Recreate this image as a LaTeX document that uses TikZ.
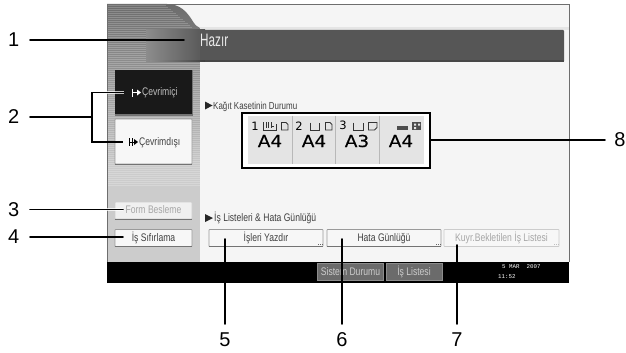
\documentclass[tikz,border=0pt]{standalone}
\usepackage{fontspec}
\setmainfont{Liberation Sans}
\newfontfamily\scrfont[FakeStretch=0.78]{Liberation Sans}
\newfontfamily\hazfont[FakeStretch=0.65]{Liberation Sans}
\newfontfamily\dtfont{Liberation Mono}
\newfontfamily\cellfont[FakeStretch=1.12,FakeBold=0.25]{DejaVu Sans}
\newfontfamily\cellnumfont{DejaVu Sans}
\definecolor{edgegray}{HTML}{6E6E6E}
\definecolor{pagebg}{HTML}{F5F5F5}
\definecolor{headdark}{HTML}{565656}
\definecolor{cellbg}{HTML}{E4E4E4}
\definecolor{btnline}{HTML}{9A9A9A}
\tikzset{
  x=1pt,y=-1pt,
  lead/.style={line width=1.9pt,black,line cap=round,line join=miter,
    preaction={draw=white,line width=2.9pt,opacity=.75}},
  numlabel/.style={font=\fontsize{20}{20}\selectfont,inner sep=0pt,anchor=east,minimum width=32pt,minimum height=18pt,align=center},
  numlabelb/.style={font=\fontsize{20}{20}\selectfont,inner sep=0pt,anchor=center},
  screenbtn/.style={draw=btnline,fill=#1,line width=.8pt,inner sep=0pt,rounded corners=.6pt},
  screenbtn/.default=white,
  scrtext/.style={font=\scrfont\fontsize{11}{11}\selectfont,inner sep=0pt,text height=8pt,text depth=2pt,text=#1},
  scrtext/.default=black!75,
  barbtn/.style={draw=black!45,fill=black!58,line width=.8pt,inner sep=0pt,text height=8pt,text depth=2pt},
  cellnum/.style={font=\cellnumfont\fontsize{11.5}{11.5}\selectfont,inner sep=0pt},
  cellsize/.style={font=\cellfont\fontsize{16.5}{16.5}\selectfont,inner sep=0pt},
  icon/.style={line width=1pt,black!80},
}
\begin{document}
\begin{tikzpicture}
\useasboundingbox (0,0) rectangle (626,353);
\fill[white] (0,0) rectangle (626,353);
% page
\fill[pagebg] (107,4) rectangle (569,262);
\fill[black!10] (200,27.5) rectangle (569,30);
% sidebar
\path[top color=black!58,bottom color=black!20] (107,4) -- (167,4) .. controls (180,4) and (187,12) .. (192,20) .. controls (195,25) and (197,27) .. (200,28) -- (200,170) -- (107,170) -- cycle;
\fill[black!20] (107,170) rectangle (200,262);
\foreach \yy in {5,7,...,29}{ \draw[white,opacity=.2,line width=.8pt] (107,\yy) -- (160+\yy*1.2,\yy); }
\foreach \yy in {31,33,...,185}{ \draw[white,opacity=.22,line width=.8pt] (107,\yy) -- (200,\yy); }
% header bar
\path[left color=black!45,right color=headdark] (146,30) rectangle (205,62);
\fill[headdark,rounded corners=1pt] (200,30) rectangle (564,62);
\path[left color=black!45,right color=black!75] (150,60.5) rectangle (205,62);
\fill[black!72] (205,60.5) rectangle (564,62);
% frame of the screen
\draw[edgegray,line width=.9pt] (107,283) -- (107,4) -- (569,4) -- (569,262);
% bottom bar
\fill[black] (107,262) rectangle (569,283);
\node[barbtn,minimum width=66pt,minimum height=17pt,text=black!20,font=\scrfont\fontsize{11}{11}\selectfont] (sd) at (350.5,272) {Sistem Durumu};
\node[barbtn,minimum width=56pt,minimum height=17pt,text=black!20,font=\scrfont\fontsize{11}{11}\selectfont] (il) at (414,272) {İş Listesi};
\node[font=\dtfont\fontsize{5.8}{5.8}\selectfont,text=white,inner sep=0pt,anchor=west] (dt) at (502,267) {5 MAR\ \ 2007};
\node[font=\dtfont\fontsize{5.8}{5.8}\selectfont,text=white,inner sep=0pt,anchor=west] (tm) at (498,276.5) {11:52};
% header text
\node[font=\hazfont\fontsize{18}{18}\selectfont,text=black!8,inner sep=0pt,anchor=west] (hz) at (200,40) {Hazır};
% side buttons
\fill[black!55] (115,70) rectangle (192.5,116);
\node[fill=black!90,inner sep=0pt,minimum width=77pt,minimum height=44pt] (on) at (153.5,92) {};
\node[screenbtn=black!3,minimum width=77pt,minimum height=45pt] (off) at (153.5,141.5) {};
\node[screenbtn=black!6,draw=black!20,minimum width=77pt,minimum height=17pt,scrtext=black!35] (fb) at (153.5,210.5) {Form Besleme};
\node[screenbtn=black!3,minimum width=77pt,minimum height=17pt,scrtext] (is) at (153.5,238) {İş Sıfırlama};
\node[scrtext=black!25,anchor=west] (ont) at (142,92.5) {Çevrimiçi};
\node[scrtext,anchor=west] (offt) at (139,142) {Çevrimdışı};
\draw[white,line width=1pt] (132.5,88.5) -- (132.5,96.5) (132.5,92.5) -- (138,92.5);
\fill[white] (137,89.5) -- (141,92.5) -- (137,95.5) -- cycle;
\draw[black,line width=.9pt] (129.5,138) -- (129.5,146) (132,138) -- (132,146) (129.5,142) -- (135,142);
\fill[black] (134,139) -- (138,142) -- (134,145) -- cycle;
\foreach \n in {off,fb,is}{ \draw[black!55,line width=.9pt] (\n.south west) -- (\n.south east); }
% section titles
\fill[black!85] (205,101.5) -- (212.5,105.5) -- (205,109.5) -- cycle;
\node[scrtext,font=\scrfont\fontsize{10.2}{10.2}\selectfont,anchor=west] (ks) at (213,106) {Kağıt Kasetinin Durumu};
\fill[black!85] (205,214) -- (213,218) -- (205,222) -- cycle;
\node[scrtext,anchor=west] (il2) at (214,218.5) {İş Listeleri \& Hata Günlüğü};
% wide buttons
\node[screenbtn=black!3,minimum width=114pt,minimum height=17pt,scrtext] (iy) at (266,238) {İşleri Yazdır};
\node[screenbtn=black!3,minimum width=114pt,minimum height=17pt,scrtext] (hg) at (384,238) {Hata Günlüğü};
\node[screenbtn=black!3,draw=black!20,minimum width=115pt,minimum height=17pt,scrtext=black!35] (kb) at (501.5,238) {Kuyr.Bekletilen İş Listesi};
\foreach \n in {iy,hg}{ \draw[black!55,line width=.9pt] (\n.south west) -- (\n.south east); }
\foreach \n/\c in {iy/black!60,hg/black!60,kb/black!25}{
  \foreach \d in {5,3,1}{ \fill[\c] ([xshift=-\d pt,yshift=2.5pt]\n.south east) rectangle +(1,1); }
}
% paper status box
\draw[black,line width=2pt,fill=white] (242,113) rectangle (430,168);
\fill[cellbg] (247.5,115.5) rectangle (423.5,163.5);
\draw[black!28,line width=.7pt] (292.5,115.5) -- (292.5,163.5) (335.5,115.5) -- (335.5,163.5) (379.5,115.5) -- (379.5,163.5);
\node[cellnum] (c1) at (255,126) {1};
\node[cellnum] (c2) at (299,126) {2};
\node[cellnum] (c3) at (343,125.5) {3};
\node[cellsize] (s1) at (270,141) {A4};
\node[cellsize] (s2) at (314,141) {A4};
\node[cellsize] (s3) at (357,141) {A3};
\node[cellsize] (s4) at (401,141) {A4};
% tray icons
\draw[icon] (263,122) -- (263,130) -- (276,130) -- (276,124);
\draw[icon] (266,122) -- (266,128) (268.5,122) -- (268.5,128) (271,122) -- (271,128) (271,126) -- (274,126);
\draw[icon] (310,122.5) -- (310,130) -- (319,130) -- (319,122.5);
\draw[icon] (353,122.5) -- (353,130) -- (363,130) -- (363,122.5);
\draw[icon,line width=.8pt] (281.5,122.5) -- (286,122.5) -- (288,124.5) -- (288,130) -- (281.5,130) -- cycle;
\draw[icon,line width=.8pt] (325.5,122.5) -- (330,122.5) -- (332,124.5) -- (332,130) -- (325.5,130) -- cycle;
\draw[icon,line width=.8pt] (368.5,122.5) -- (377,122.5) -- (377,127.5) -- (374.5,130) -- (368.5,130) -- cycle;
\fill[black!70] (397,125.5) rectangle (408,129.5);
\fill[black!70] (412,122) rectangle (421,130);
\fill[cellbg] (414,123.5) rectangle (416,125.5) (418,123.5) rectangle (420,125.5) (414,127) rectangle (416,129);
% numbered labels
\node[numlabel] (n1) at (30,40) {1};
\node[numlabel] (n2) at (30,117) {2};
\node[numlabel] (n3) at (30,209.5) {3};
\node[numlabel] (n4) at (30,237) {4};
\node[numlabelb] (n5) at (225,340) {5};
\node[numlabelb] (n6) at (342,340) {6};
\node[numlabelb] (n7) at (457,340) {7};
\node[numlabelb] (n8) at (620,140) {8};
% connector ends
\coordinate (t1) at (184,40);
\coordinate (j2) at (92,117);
\coordinate (t2a) at (124,92.5);
\coordinate (t2b) at (123,142);
\coordinate (t3) at (123,209.5);
\coordinate (t4) at (123,237);
\coordinate (t5) at (225,239);
\coordinate (t6) at (342,239);
\coordinate (t7) at (457,245);
\coordinate (t8) at (431,140);
\coordinate (b5) at (225,324);
\coordinate (b6) at (342,324);
\coordinate (b7) at (457,324);
\coordinate (b8) at (605,140);
% connectors
\draw[lead] (n1.east) -- (t1);
\draw[lead] (n2.east) -- (j2);
\draw[lead,line cap=butt] (t2a) -- (92,92.5) -- (92,142) -- (t2b);
\draw[lead] (n3.east) -- (t3);
\draw[lead] (n4.east) -- (t4);
\draw[lead] (b5) -- (t5);
\draw[lead] (b6) -- (t6);
\draw[lead] (b7) -- (t7);
\draw[lead] (t8) -- (b8);
\end{tikzpicture}
\end{document}
